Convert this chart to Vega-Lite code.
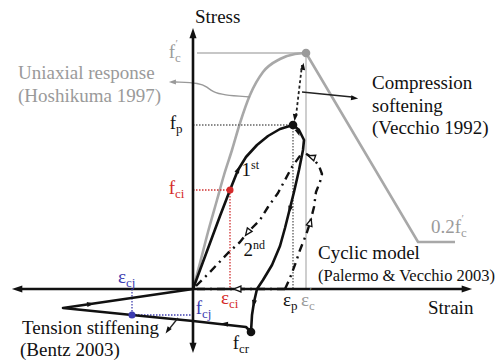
{
 "$schema": "https://vega.github.io/schema/vega-lite/v6.json",
 "width": 499, "height": 360,
 "autosize": {"type": "fit", "contains": "padding"},
 "padding": 0,
 "background": "white",
 "config": {"view": {"stroke": null}, "font": "Liberation Serif, DejaVu Serif, serif"},
 "datasets": {
  "lines": [
   {"p":"axis","id":"h","o":0,"x":-175,"y":0},{"p":"axis","id":"h","o":1,"x":273,"y":0},
   {"p":"axis","id":"v","o":0,"x":0,"y":-58},{"p":"axis","id":"v","o":1,"x":0,"y":255},
   {"p":"envelopeUp","id":"u","o":0,"x":0,"y":0},{"p":"envelopeUp","id":"u","o":1,"x":7,"y":26},{"p":"envelopeUp","id":"u","o":2,"x":15,"y":57},{"p":"envelopeUp","id":"u","o":3,"x":24,"y":89},{"p":"envelopeUp","id":"u","o":4,"x":31,"y":114},{"p":"envelopeUp","id":"u","o":5,"x":39,"y":139},{"p":"envelopeUp","id":"u","o":6,"x":47,"y":166},{"p":"envelopeUp","id":"u","o":7,"x":57,"y":194},{"p":"envelopeUp","id":"u","o":8,"x":70,"y":217},{"p":"envelopeUp","id":"u","o":9,"x":87,"y":230},{"p":"envelopeUp","id":"u","o":10,"x":102,"y":235},{"p":"envelopeUp","id":"u","o":11,"x":113,"y":236},
   {"p":"envelopeDown","id":"w","o":0,"x":113,"y":236},{"p":"envelopeDown","id":"w","o":1,"x":225,"y":47},{"p":"envelopeDown","id":"w","o":2,"x":262,"y":47},
   {"p":"ref","id":"fc","o":0,"x":4,"y":236},{"p":"ref","id":"fc","o":1,"x":113,"y":236},
   {"p":"ref","id":"ec","o":0,"x":113,"y":236},{"p":"ref","id":"ec","o":1,"x":113,"y":0},
   {"p":"dotted","id":"fpH","o":0,"x":0,"y":164},{"p":"dotted","id":"fpH","o":1,"x":100,"y":164},
   {"p":"dotted","id":"epV","o":0,"x":100,"y":164},{"p":"dotted","id":"epV","o":1,"x":100,"y":0},
   {"p":"red","id":"rh","o":0,"x":0,"y":99},{"p":"red","id":"rh","o":1,"x":37,"y":99},
   {"p":"red","id":"rv","o":0,"x":37,"y":99},{"p":"red","id":"rv","o":1,"x":37,"y":0},
   {"p":"blue","id":"bv","o":0,"x":-61,"y":0},{"p":"blue","id":"bv","o":1,"x":-61,"y":-26},
   {"p":"blue","id":"bh","o":0,"x":-61,"y":-26},{"p":"blue","id":"bh","o":1,"x":0,"y":-26},
   {"p":"loop","id":"j","o":0,"x":0,"y":0},{"p":"loop","id":"j","o":1,"x":7,"y":19},{"p":"loop","id":"j","o":2,"x":17,"y":46},{"p":"loop","id":"j","o":3,"x":27,"y":73},{"p":"loop","id":"j","o":4,"x":37,"y":99},{"p":"loop","id":"j","o":5,"x":45,"y":119},{"p":"loop","id":"j","o":6,"x":53,"y":132},{"p":"loop","id":"j","o":7,"x":64,"y":144},{"p":"loop","id":"j","o":8,"x":75,"y":153},{"p":"loop","id":"j","o":9,"x":87,"y":160},{"p":"loop","id":"j","o":10,"x":100,"y":164},{"p":"loop","id":"j","o":11,"x":106,"y":159},{"p":"loop","id":"j","o":12,"x":111,"y":149},{"p":"loop","id":"j","o":13,"x":110,"y":139},{"p":"loop","id":"j","o":14,"x":106,"y":119},{"p":"loop","id":"j","o":15,"x":101,"y":97},{"p":"loop","id":"j","o":16,"x":97,"y":81},{"p":"loop","id":"j","o":17,"x":92,"y":61},{"p":"loop","id":"j","o":18,"x":87,"y":43},{"p":"loop","id":"j","o":19,"x":79,"y":24},{"p":"loop","id":"j","o":20,"x":70,"y":9},{"p":"loop","id":"j","o":21,"x":64,"y":0},{"p":"loop","id":"j","o":22,"x":61,"y":-13},{"p":"loop","id":"j","o":23,"x":59,"y":-26},{"p":"loop","id":"j","o":24,"x":58,"y":-43},
   {"p":"loop","id":"k","o":0,"x":58,"y":-43},{"p":"loop","id":"k","o":1,"x":53,"y":-38},{"p":"loop","id":"k","o":2,"x":0,"y":-32},{"p":"loop","id":"k","o":3,"x":-61,"y":-26},{"p":"loop","id":"k","o":4,"x":-130,"y":-19},{"p":"loop","id":"k","o":5,"x":0,"y":0},
   {"p":"cycle","id":"l","o":0,"x":3,"y":3},{"p":"cycle","id":"l","o":1,"x":17,"y":17},{"p":"cycle","id":"l","o":2,"x":35,"y":36},{"p":"cycle","id":"l","o":3,"x":47,"y":47},{"p":"cycle","id":"l","o":4,"x":55,"y":57},{"p":"cycle","id":"l","o":5,"x":67,"y":69},{"p":"cycle","id":"l","o":6,"x":75,"y":82},{"p":"cycle","id":"l","o":7,"x":85,"y":96},{"p":"cycle","id":"l","o":8,"x":92,"y":109},{"p":"cycle","id":"l","o":9,"x":99,"y":122},{"p":"cycle","id":"l","o":10,"x":109,"y":136},
   {"p":"cycle","id":"m","o":0,"x":92,"y":0},{"p":"cycle","id":"m","o":1,"x":97,"y":11},{"p":"cycle","id":"m","o":2,"x":103,"y":27},{"p":"cycle","id":"m","o":3,"x":107,"y":39},{"p":"cycle","id":"m","o":4,"x":113,"y":54},{"p":"cycle","id":"m","o":5,"x":117,"y":66},{"p":"cycle","id":"m","o":6,"x":121,"y":82},{"p":"cycle","id":"m","o":7,"x":123,"y":97},{"p":"cycle","id":"m","o":8,"x":127,"y":107},{"p":"cycle","id":"m","o":9,"x":129,"y":115},{"p":"cycle","id":"m","o":10,"x":126,"y":123},{"p":"cycle","id":"m","o":11,"x":120,"y":131},{"p":"cycle","id":"m","o":12,"x":112,"y":136},
   {"p":"cycle","id":"n","o":0,"x":4,"y":0},{"p":"cycle","id":"n","o":1,"x":92,"y":0},
   {"p":"soften","id":"o","o":0,"x":103,"y":173},{"p":"soften","id":"o","o":1,"x":109,"y":224},
   {"p":"pointer","id":"pc","o":0,"x":109,"y":197},{"p":"pointer","id":"pc","o":1,"x":159,"y":192},
   {"p":"pointer","id":"pt","o":0,"x":-15,"y":-29},{"p":"pointer","id":"pt","o":1,"x":-23,"y":-39},
   {"p":"pointerGray","id":"q","o":0,"x":-18,"y":207},{"p":"pointerGray","id":"q","o":1,"x":7,"y":206},{"p":"pointerGray","id":"q","o":2,"x":14,"y":202},{"p":"pointerGray","id":"q","o":3,"x":20,"y":197},{"p":"pointerGray","id":"q","o":4,"x":30,"y":194},{"p":"pointerGray","id":"q","o":5,"x":57,"y":192}
  ],
  "dots": [
   {"g":"g","x":113,"y":236,"sz":"l"},
   {"g":"k","x":100,"y":164,"sz":"l"},
   {"g":"r","x":37,"y":99,"sz":"s"},
   {"g":"b","x":-61,"y":-26,"sz":"s"},
   {"g":"k","x":58,"y":-43,"sz":"l"}
  ],
  "arrows": [
   {"k":"axis","x":-175,"y":0,"a":270},{"k":"axis","x":273,"y":0,"a":90},{"k":"axis","x":0,"y":255,"a":0},{"k":"axis","x":0,"y":-58,"a":180},
   {"k":"solid","x":45,"y":119,"a":26},{"k":"solid","x":105,"y":157,"a":160},{"k":"solid","x":97,"y":80,"a":194},{"k":"solid","x":61,"y":-14,"a":188},{"k":"solid","x":32,"y":-35,"a":276},{"k":"solid","x":-103,"y":-15,"a":82},
   {"k":"solid","x":110,"y":222,"a":7},{"k":"solid","x":102,"y":172,"a":187},{"k":"solid","x":161,"y":191,"a":96},{"k":"solid","x":-25,"y":-41,"a":215},
   {"k":"gray","x":-20,"y":207,"a":270},
   {"k":"open","x":55,"y":57,"a":216},{"k":"open","x":119,"y":132,"a":290},{"k":"open","x":117,"y":66,"a":17},{"k":"open","x":45,"y":0,"a":270}
  ],
  "texts": [
   {"t":"Stress","x":2,"y":272,"g":"k"},
   {"t":"Strain","x":235,"y":-19,"g":"k"},
   {"t":"Uniaxial response","x":-175,"y":216,"g":"g"},
   {"t":"(Hoshikuma 1997)","x":-175,"y":193,"g":"g"},
   {"t":"Compression","x":179,"y":206,"g":"k"},
   {"t":"softening","x":179,"y":183,"g":"k"},
   {"t":"(Vecchio 1992)","x":179,"y":161,"g":"k"},
   {"t":"Cyclic model","x":125,"y":36,"g":"k"},
   {"t":"Tension stiffening","x":-171,"y":-39,"g":"k"},
   {"t":"(Bentz 2003)","x":-173,"y":-61,"g":"k"}
  ],
  "labels": [
   {"m":"f","s":"c","pr":"′","u":"","x":-18,"y":237,"g":"g"},
   {"m":"f","s":"p","pr":"","u":"","x":-17,"y":166,"g":"k"},
   {"m":"f","s":"ci","pr":"","u":"","x":-18,"y":101,"g":"r"},
   {"m":"ε","s":"cj","pr":"","u":"","x":-67,"y":12,"g":"b"},
   {"m":"f","s":"cj","pr":"","u":"","x":9,"y":-19,"g":"b"},
   {"m":"ε","s":"ci","pr":"","u":"","x":36,"y":-9,"g":"r"},
   {"m":"f","s":"cr","pr":"","u":"","x":46,"y":-54,"g":"k"},
   {"m":"ε","s":"p","pr":"","u":"","x":98,"y":-11,"g":"k"},
   {"m":"ε","s":"c","pr":"′","u":"","x":116,"y":-11,"g":"g"},
   {"m":"0.2f","s":"c","pr":"′","u":"","x":268,"y":62,"g":"g"},
   {"m":"1","s":"","pr":"","u":"st","x":58,"y":119,"g":"k"},
   {"m":"2","s":"","pr":"","u":"nd","x":60,"y":39,"g":"k"}
  ]
 },
 "encoding": {
  "x": {"field": "x", "type": "quantitative", "scale": {"domain": [-193, 306], "nice": false, "zero": false}, "axis": null},
  "y": {"field": "y", "type": "quantitative", "scale": {"domain": [-71, 289], "nice": false, "zero": false}, "axis": null}
 },
 "layer": [
  {"data": {"name": "lines"}, "transform": [{"filter": "datum.p == 'ref'"}],
   "mark": {"type": "line", "color": "#b4b4b4", "strokeWidth": 1.3},
   "encoding": {"detail": {"field": "id"}, "order": {"field": "o", "type": "quantitative"}}},
  {"data": {"name": "lines"}, "transform": [{"filter": "datum.p == 'envelopeUp'"}],
   "mark": {"type": "line", "color": "#a8a8a8", "strokeWidth": 2.6, "interpolate": "monotone"},
   "encoding": {"detail": {"field": "id"}, "order": {"field": "o", "type": "quantitative"}}},
  {"data": {"name": "lines"}, "transform": [{"filter": "datum.p == 'envelopeDown'"}],
   "mark": {"type": "line", "color": "#a8a8a8", "strokeWidth": 2.6},
   "encoding": {"detail": {"field": "id"}, "order": {"field": "o", "type": "quantitative"}}},
  {"data": {"name": "lines"}, "transform": [{"filter": "datum.p == 'dotted'"}],
   "mark": {"type": "line", "color": "#666666", "strokeWidth": 1.4, "strokeDash": [1.5, 1.5]},
   "encoding": {"detail": {"field": "id"}, "order": {"field": "o", "type": "quantitative"}}},
  {"data": {"name": "lines"}, "transform": [{"filter": "datum.p == 'red'"}],
   "mark": {"type": "line", "color": "#d03030", "strokeWidth": 1.3, "strokeDash": [1.5, 1.5]},
   "encoding": {"detail": {"field": "id"}, "order": {"field": "o", "type": "quantitative"}}},
  {"data": {"name": "lines"}, "transform": [{"filter": "datum.p == 'blue'"}],
   "mark": {"type": "line", "color": "#4040b0", "strokeWidth": 1.3, "strokeDash": [1.5, 1.5]},
   "encoding": {"detail": {"field": "id"}, "order": {"field": "o", "type": "quantitative"}}},
  {"data": {"name": "lines"}, "transform": [{"filter": "datum.p == 'pointerGray'"}],
   "mark": {"type": "line", "color": "#999999", "strokeWidth": 1.4, "interpolate": "basis"},
   "encoding": {"detail": {"field": "id"}, "order": {"field": "o", "type": "quantitative"}}},
  {"data": {"name": "lines"}, "transform": [{"filter": "datum.p == 'axis'"}],
   "mark": {"type": "line", "color": "#111111", "strokeWidth": 2.6},
   "encoding": {"detail": {"field": "id"}, "order": {"field": "o", "type": "quantitative"}}},
  {"data": {"name": "lines"}, "transform": [{"filter": "datum.p == 'loop'"}],
   "mark": {"type": "line", "color": "#111111", "strokeWidth": 2.6, "strokeJoin": "round"},
   "encoding": {"detail": {"field": "id"}, "order": {"field": "o", "type": "quantitative"}}},
  {"data": {"name": "lines"}, "transform": [{"filter": "datum.p == 'cycle'"}],
   "mark": {"type": "line", "color": "#111111", "strokeWidth": 2.4, "strokeDash": [8, 5, 2, 5], "strokeJoin": "round"},
   "encoding": {"detail": {"field": "id"}, "order": {"field": "o", "type": "quantitative"}}},
  {"data": {"name": "lines"}, "transform": [{"filter": "datum.p == 'soften'"}],
   "mark": {"type": "line", "color": "#222222", "strokeWidth": 1.8, "strokeDash": [3, 2.5]},
   "encoding": {"detail": {"field": "id"}, "order": {"field": "o", "type": "quantitative"}}},
  {"data": {"name": "lines"}, "transform": [{"filter": "datum.p == 'pointer'"}],
   "mark": {"type": "line", "color": "#222222", "strokeWidth": 1.3},
   "encoding": {"detail": {"field": "id"}, "order": {"field": "o", "type": "quantitative"}}},
  {"data": {"name": "dots"}, "transform": [{"filter": "datum.sz == 'l'"}],
   "mark": {"type": "point", "shape": "circle", "filled": true, "size": 75, "opacity": 1},
   "encoding": {"color": {"field": "g", "type": "nominal", "scale": {"domain": ["k", "g", "r", "b"], "range": ["#111111", "#9a9a9a", "#d42a2a", "#3b3bb0"]}, "legend": null}}},
  {"data": {"name": "dots"}, "transform": [{"filter": "datum.sz == 's'"}],
   "mark": {"type": "point", "shape": "circle", "filled": true, "size": 50, "opacity": 1},
   "encoding": {"color": {"field": "g", "type": "nominal", "legend": null}}},
  {"data": {"name": "arrows"}, "transform": [{"filter": "datum.k == 'axis'"}],
   "mark": {"type": "point", "shape": "M0,-1L0.58,0.7L-0.58,0.7Z", "filled": true, "size": 150, "color": "#111111", "opacity": 1},
   "encoding": {"angle": {"field": "a", "type": "quantitative", "scale": null}}},
  {"data": {"name": "arrows"}, "transform": [{"filter": "datum.k == 'solid'"}],
   "mark": {"type": "point", "shape": "M0,-1L0.6,0.7L-0.6,0.7Z", "filled": true, "size": 70, "color": "#111111", "opacity": 1},
   "encoding": {"angle": {"field": "a", "type": "quantitative", "scale": null}}},
  {"data": {"name": "arrows"}, "transform": [{"filter": "datum.k == 'gray'"}],
   "mark": {"type": "point", "shape": "M0,-1L0.6,0.7L-0.6,0.7Z", "filled": true, "size": 70, "color": "#999999", "opacity": 1},
   "encoding": {"angle": {"field": "a", "type": "quantitative", "scale": null}}},
  {"data": {"name": "arrows"}, "transform": [{"filter": "datum.k == 'open'"}],
   "mark": {"type": "point", "shape": "M0,-1L0.7,0.7L-0.7,0.7Z", "filled": true, "fill": "white", "stroke": "#111111", "strokeWidth": 1.3, "size": 70, "opacity": 1},
   "encoding": {"angle": {"field": "a", "type": "quantitative", "scale": null}}},
  {"data": {"name": "texts"},
   "mark": {"type": "text", "align": "left", "baseline": "middle", "fontSize": 19, "font": "Liberation Serif, DejaVu Serif, serif"},
   "encoding": {"text": {"field": "t"}, "color": {"field": "g", "type": "nominal", "legend": null}}},
  {"data": {"values": [{"t": "(Palermo & Vecchio 2003)", "x": 125, "y": 13, "g": "k"}]},
   "mark": {"type": "text", "align": "left", "baseline": "middle", "fontSize": 16.5, "font": "Liberation Serif, DejaVu Serif, serif"},
   "encoding": {"text": {"field": "t"}, "color": {"field": "g", "type": "nominal", "legend": null}}},
  {"data": {"name": "labels"},
   "mark": {"type": "text", "align": "right", "baseline": "middle", "fontSize": 19, "font": "Liberation Serif, DejaVu Serif, serif"},
   "encoding": {"text": {"field": "m"}, "color": {"field": "g", "type": "nominal", "legend": null}}},
  {"data": {"name": "labels"},
   "mark": {"type": "text", "align": "left", "baseline": "middle", "fontSize": 13, "dy": 6, "font": "Liberation Serif, DejaVu Serif, serif"},
   "encoding": {"text": {"field": "s"}, "color": {"field": "g", "type": "nominal", "legend": null}}},
  {"data": {"name": "labels"},
   "mark": {"type": "text", "align": "left", "baseline": "middle", "fontSize": 11, "dy": -8, "dx": 0.5, "font": "Liberation Serif, DejaVu Serif, serif"},
   "encoding": {"text": {"field": "pr"}, "color": {"field": "g", "type": "nominal", "legend": null}}},
  {"data": {"name": "labels"},
   "mark": {"type": "text", "align": "left", "baseline": "middle", "fontSize": 12, "dy": -5, "font": "Liberation Serif, DejaVu Serif, serif"},
   "encoding": {"text": {"field": "u"}, "color": {"field": "g", "type": "nominal", "legend": null}}}
 ]
}
